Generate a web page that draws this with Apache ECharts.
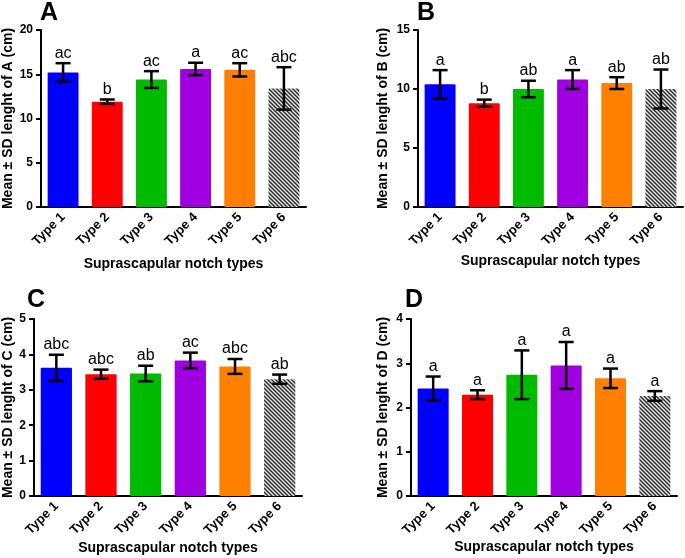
<!DOCTYPE html>
<html>
<head>
<meta charset="utf-8">
<script src="https://cdn.jsdelivr.net/npm/echarts@6/dist/echarts.min.js"></script>
<style>html,body{margin:0;padding:0;background:#fff;}#c{width:685px;height:558px;}</style>
</head>
<body>
<div id="c"></div>
<script>
const categories = ['Type 1', 'Type 2', 'Type 3', 'Type 4', 'Type 5', 'Type 6'];

const meanA = [15.2, 11.9, 14.4, 15.6, 15.5, 13.4];
const sdA = [1.05, 0.25, 0.95, 0.7, 0.75, 2.4];
const lettersA = ['ac', 'b', 'ac', 'a', 'ac', 'abc'];

const meanB = [10.4, 8.8, 10.0, 10.8, 10.5, 10.0];
const sdB = [1.2, 0.3, 0.7, 0.8, 0.5, 1.65];
const lettersB = ['a', 'b', 'ab', 'a', 'ab', 'ab'];

const meanC = [3.62, 3.44, 3.46, 3.83, 3.66, 3.3];
const sdC = [0.37, 0.13, 0.22, 0.22, 0.21, 0.13];
const lettersC = ['abc', 'abc', 'ab', 'ac', 'abc', 'ab'];

const meanD = [2.43, 2.29, 2.74, 2.95, 2.66, 2.26];
const sdD = [0.27, 0.1, 0.55, 0.53, 0.22, 0.11];
const lettersD = ['a', 'a', 'a', 'a', 'a', 'a'];

const yMax = [20, 15, 5, 4];
const yInterval = [5, 5, 1, 1];
const panelLetters = ['A', 'B', 'C', 'D'];
const yNames = ['Mean \u00b1 SD lenght of A (cm)', 'Mean \u00b1 SD lenght of B (cm)',
                'Mean \u00b1 SD lenght of C (cm)', 'Mean \u00b1 SD lenght of D (cm)'];
const xName = 'Suprascapular notch types';

const FONT = '"Liberation Sans", Arial, Helvetica, sans-serif';

// hatch pattern
const pc = document.createElement('canvas');
pc.width = 4; pc.height = 4;
const g = pc.getContext('2d');
g.fillStyle = '#e4e4e4';
g.fillRect(0, 0, 4, 4);
g.strokeStyle = '#2a2a2a';
g.lineWidth = 1.4;
g.beginPath();
g.moveTo(-1, -1); g.lineTo(5, 5);
g.moveTo(-1, 3); g.lineTo(1, 5);
g.moveTo(3, -1); g.lineTo(5, 1);
g.stroke();

const barColors = ['#0000ff', '#ff0000', '#00bb00', '#a000e0', '#ff8000', { image: pc, repeat: 'repeat' }];

const grids = [
  { left: 41, top: 30, width: 265, height: 177 },
  { left: 418, top: 30, width: 265, height: 177 },
  { left: 33, top: 319, width: 269, height: 177 },
  { left: 411, top: 319, width: 266, height: 177 }
];
const yNameGap = [26, 28, 19, 21];
const xNameGap = [50, 47, 45, 38];

const means = [meanA, meanB, meanC, meanD];
const sds = [sdA, sdB, sdC, sdD];
const letters = [lettersA, lettersB, lettersC, lettersD];

const xAxes = [], yAxes = [], series = [], graphics = [];
const letterPos = [[40, 15], [417, 15], [27, 302], [405, 302]];

for (let i = 0; i < 4; i++) {
  xAxes.push({
    type: 'category', gridIndex: i, data: categories,
    name: xName, nameLocation: 'middle', nameGap: xNameGap[i],
    nameTextStyle: { fontFamily: FONT, fontWeight: 'bold', fontSize: 14, color: '#000' },
    axisLine: { lineStyle: { color: '#000', width: 2 } },
    axisTick: { alignWithLabel: true, length: 5, lineStyle: { color: '#000', width: 2 } },
    axisLabel: { rotate: 45, margin: 8, fontFamily: FONT, fontWeight: 'bold', fontSize: 13, color: '#000', interval: 0 },
    splitLine: { show: false }
  });
  yAxes.push({
    type: 'value', gridIndex: i, min: 0, max: yMax[i], interval: yInterval[i],
    name: yNames[i], nameLocation: 'middle', nameGap: yNameGap[i],
    nameTextStyle: { fontFamily: FONT, fontWeight: 'bold', fontSize: 14, color: '#000' },
    axisLine: { show: true, lineStyle: { color: '#000', width: 2 } },
    axisTick: { show: true, length: 5, lineStyle: { color: '#000', width: 2 } },
    axisLabel: { margin: 8, fontFamily: FONT, fontWeight: 'bold', fontSize: 12, color: '#000' },
    splitLine: { show: false }
  });
  const m = means[i], s = sds[i], L = letters[i];
  series.push({
    type: 'bar', xAxisIndex: i, yAxisIndex: i, barCategoryGap: '30%',
    data: m.map((v, k) => ({ value: v, itemStyle: { color: barColors[k], borderRadius: 1 } })),
    silent: true, animation: false
  });
  series.push({
    type: 'custom', xAxisIndex: i, yAxisIndex: i, z: 5, animation: false, silent: true,
    data: m.map((v, k) => [k, v, s[k]]),
    encode: { x: 0, y: 1 },
    renderItem: function (params, api) {
      const x = api.value(0), mv = api.value(1), sv = api.value(2);
      const top = api.coord([x, mv + sv]);
      const bot = api.coord([x, mv - sv]);
      const hw = 7.5;
      const st = { stroke: '#000', lineWidth: 2.5 };
      return {
        type: 'group', children: [
          { type: 'line', shape: { x1: top[0], y1: top[1], x2: bot[0], y2: bot[1] }, style: st },
          { type: 'line', shape: { x1: top[0] - hw, y1: top[1], x2: top[0] + hw, y2: top[1] }, style: st },
          { type: 'line', shape: { x1: bot[0] - hw, y1: bot[1], x2: bot[0] + hw, y2: bot[1] }, style: st },
          { type: 'text', x: top[0], y: top[1] - 2,
            style: { text: L[params.dataIndex], fill: '#000', font: '16px ' + FONT, textAlign: 'center', textVerticalAlign: 'bottom' } }
        ]
      };
    }
  });
  graphics.push({
    type: 'text', left: letterPos[i][0], top: letterPos[i][1] - 14,
    style: { text: panelLetters[i], fill: '#000', font: 'bold 25px ' + FONT }
  });
}

const chart = echarts.init(document.getElementById('c'), null, { renderer: 'canvas' });
chart.setOption({
  animation: false,
  backgroundColor: '#fff',
  grid: grids,
  xAxis: xAxes,
  yAxis: yAxes,
  series: series,
  graphic: graphics
});
</script>
</body>
</html>
